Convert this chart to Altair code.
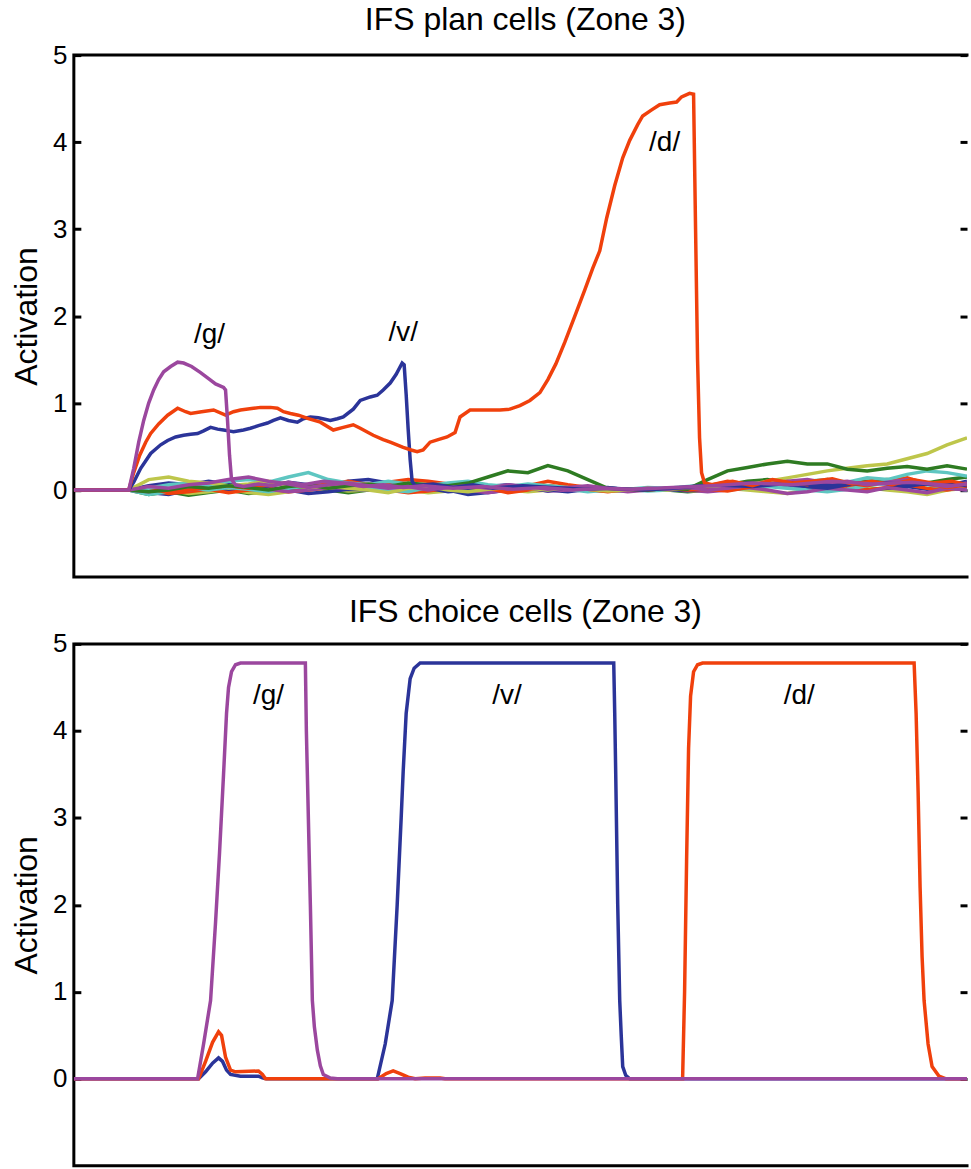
import altair as alt
import pandas as pd

FONT = "Liberation Sans"
W, H = 895, 523
X_MAX = 895
TICKS = [0, 1, 2, 3, 4, 5]

BLUE, RED, GREEN, OLIVE, CYAN, PURPLE = "#2B3499", "#F0400C", "#2E7B22", "#BEC64B", "#5EC6C1", "#9B479E"

# ---------------- top panel: plan cells ----------------
NOISE_T = [55, 75, 95, 115, 135, 155, 175, 195, 215, 235, 255, 275, 295, 315, 335, 355, 375,
           395, 415, 435, 455, 475, 495, 515, 535, 555, 575, 595, 615, 635, 655, 675, 695,
           715, 735, 755, 775, 795, 815, 835, 855, 875, 895]

N_BLUE = [0.0, 0.05, 0.08, 0.06, 0.10, 0.07, 0.03, 0.05, 0.09, 0.06,
          0.04, 0.10, 0.12, 0.08, 0.05, 0.02, -0.02, 0.00, 0.04, 0.06,
          0.03, -0.01, 0.02, 0.01, 0.03, 0.00, 0.02, 0.01, -0.01, 0.02,
          0.03, 0.05, 0.06, 0.08, 0.04, 0.02, 0.06, 0.09, 0.07, 0.04,
          0.08, 0.05, 0.10]
N_RED = [0.0, 0.02, -0.03, 0.00, 0.03, 0.05, 0.02, 0.06, 0.08, 0.04,
         0.07, 0.10, 0.06, 0.09, 0.12, 0.10, 0.07, 0.04, 0.02, -0.03,
         0.00, 0.05, 0.03, 0.01, -0.02, 0.01, 0.00, 0.02, 0.00, 0.01,
         -0.01, 0.03, 0.09, 0.10, 0.06, 0.12, 0.08, 0.05, 0.10, 0.14,
         0.07, 0.03, 0.06]
N_GREEN = [0.0, -0.02, 0.00, 0.04, 0.02, 0.05, 0.03, 0.00, 0.04, 0.06,
           0.02, 0.05, 0.07, 0.04, 0.08, 0.06, 0.05, 0.08, 0.15, 0.22,
           0.20, 0.28, 0.22, 0.12, 0.02, 0.01, 0.00, 0.02, 0.01, 0.12,
           0.22, 0.26, 0.30, 0.33, 0.30, 0.30, 0.24, 0.22, 0.25, 0.27,
           0.24, 0.28, 0.24]
N_OLIVE = [0.0, 0.12, 0.15, 0.10, 0.08, 0.05, 0.07, 0.10, 0.06, 0.03,
           0.05, 0.02, 0.00, -0.03, 0.02, 0.04, 0.00, -0.02, 0.01, 0.03,
           0.02, 0.00, 0.03, 0.01, -0.01, 0.00, 0.02, 0.00, 0.03, 0.05,
           0.04, 0.06, 0.10, 0.14, 0.18, 0.22, 0.25, 0.28, 0.30, 0.36,
           0.42, 0.52, 0.60]
N_CYAN = [0.0, 0.02, 0.06, 0.08, 0.05, 0.10, 0.12, 0.09, 0.15, 0.20,
          0.12, 0.08, 0.06, 0.10, 0.07, 0.05, 0.08, 0.10, 0.06, 0.04,
          0.07, 0.05, 0.03, 0.02, 0.00, 0.01, 0.03, 0.02, 0.04, 0.06,
          0.03, 0.05, 0.08, 0.06, 0.10, 0.12, 0.09, 0.14, 0.12, 0.18,
          0.22, 0.20, 0.16]
N_PURPLE = [0.0, 0.04, 0.02, 0.06, 0.08, 0.12, 0.15, 0.10, 0.07, 0.03,
            0.06, 0.08, 0.05, 0.02, 0.04, 0.00, 0.03, 0.05, 0.02, 0.06,
            0.04, 0.01, 0.03, 0.05, 0.02, 0.00, 0.02, 0.01, 0.03, 0.00,
            0.02, 0.05, 0.07, 0.10, 0.12, 0.08, 0.10, 0.06, 0.09, 0.12,
            0.07, 0.04, 0.08]
N_BLUE2 = [0.0, -0.03, -0.05, 0.00, 0.02, -0.02, 0.01, 0.03, 0.00, -0.04,
           -0.02, 0.01, 0.00, 0.03, 0.05, 0.02, 0.00, -0.05, -0.03, 0.00,
           0.02, 0.00, -0.02, 0.01, 0.00, -0.01, 0.01, 0.00, 0.02, 0.00,
           0.05, 0.08, 0.06, 0.04, 0.02, 0.05, 0.03, 0.00, 0.02, 0.04,
           0.01, 0.03, 0.00]
N_RED2 = [0.0, 0.00, -0.04, -0.02, 0.01, -0.03, 0.00, 0.02, -0.02, 0.00,
          0.03, 0.05, 0.02, 0.00, -0.03, -0.01, 0.02, 0.04, 0.00, 0.02,
          0.05, 0.10, 0.06, 0.03, 0.00, 0.01, 0.00, 0.00, 0.02, 0.05,
          0.10, 0.07, 0.04, 0.08, 0.05, 0.02, 0.04, 0.00, 0.03, 0.06,
          0.02, 0.00, 0.04]
N_GREEN2 = [0.0, -0.05, -0.02, -0.06, -0.03, 0.00, -0.04, -0.02, 0.01, 0.04,
            0.00, -0.03, 0.00, 0.02, 0.05, 0.03, 0.00, -0.02, 0.01, 0.00,
            0.03, 0.05, 0.02, 0.00, -0.01, 0.00, 0.01, 0.00, -0.02, 0.00,
            0.06, 0.10, 0.12, 0.08, 0.10, 0.06, 0.08, 0.10, 0.12, 0.10,
            0.08, 0.12, 0.15]
N_CYAN2 = [0.0, -0.05, -0.02, 0.02, 0.00, 0.03, 0.01, -0.02, 0.02, 0.05,
           0.08, 0.04, 0.02, 0.00, -0.02, 0.03, 0.06, 0.08, 0.05, 0.02,
           0.00, 0.03, 0.01, -0.02, 0.00, 0.01, -0.01, 0.00, 0.02, 0.01,
           0.00, 0.02, 0.04, 0.02, 0.00, -0.02, 0.01, 0.05, 0.08, 0.10,
           0.06, 0.03, 0.00]
N_OLIVE2 = [0.0, 0.03, 0.00, -0.04, -0.02, 0.01, -0.03, -0.05, -0.02, 0.00,
            0.02, -0.01, 0.00, 0.03, 0.00, -0.03, -0.01, 0.00, 0.02, 0.00,
            -0.02, 0.00, 0.01, 0.00, -0.01, 0.00, 0.00, 0.01, -0.01, 0.00,
            0.02, 0.00, -0.02, -0.04, 0.00, 0.02, 0.05, 0.03, 0.00, -0.02,
            -0.05, 0.00, 0.02]
N_PURPLE2 = [0.0, -0.02, 0.02, 0.00, 0.03, 0.06, 0.04, 0.01, -0.02, 0.00,
             0.03, 0.02, 0.06, 0.09, 0.05, 0.02, 0.04, 0.00, -0.03, 0.00,
             0.02, -0.01, 0.00, 0.02, 0.01, -0.02, 0.00, 0.02, 0.00, -0.02,
             0.00, 0.03, 0.00, -0.04, -0.02, 0.02, 0.00, -0.02, 0.03, 0.00,
             -0.03, 0.02, 0.00]

NOISE = [("n_green2", GREEN, N_GREEN2), ("n_olive2", OLIVE, N_OLIVE2), ("n_blue2", BLUE, N_BLUE2),
         ("n_red2", RED, N_RED2), ("n_cyan2", CYAN, N_CYAN2), ("n_purple2", PURPLE, N_PURPLE2),
         ("n_blue", BLUE, N_BLUE), ("n_red", RED, N_RED), ("n_cyan", CYAN, N_CYAN),
         ("n_olive", OLIVE, N_OLIVE), ("n_green", GREEN, N_GREEN), ("n_purple", PURPLE, N_PURPLE)]

PLAN_G = [(0, 0), (55, 0), (60, 0.25), (65, 0.55), (70, 0.8), (75, 1.0), (80, 1.15), (85, 1.27),
          (90, 1.36), (97, 1.42), (104, 1.47), (110, 1.46), (118, 1.42), (127, 1.35), (135, 1.28),
          (142, 1.22), (150, 1.18), (152, 1.15), (154, 0.8), (156, 0.4), (158, 0.12), (162, 0.06),
          (170, 0.04), (185, 0.07), (200, 0.05), (215, 0.09), (230, 0.06), (250, 0.1), (270, 0.08),
          (290, 0.04), (310, 0.06), (330, 0.03), (350, 0.05), (380, 0.02), (410, 0.04), (440, 0.01),
          (470, 0.03), (500, 0.0), (530, 0.02), (560, 0.01), (600, 0.03), (640, 0.05), (680, 0.08),
          (720, 0.06), (760, 0.1), (800, 0.07), (840, 0.09), (880, 0.05), (895, 0.07)]

PLAN_V = [(0, 0), (55, 0), (60, 0.09), (67, 0.25), (77, 0.42), (87, 0.52), (94, 0.57), (102, 0.61),
          (110, 0.63), (117, 0.64), (124, 0.65), (130, 0.68), (137, 0.72), (144, 0.7), (150, 0.69),
          (155, 0.68), (160, 0.67), (170, 0.69), (177, 0.71), (185, 0.74), (194, 0.77), (200, 0.8),
          (207, 0.83), (215, 0.8), (224, 0.78), (230, 0.82), (237, 0.84), (245, 0.83), (257, 0.8),
          (264, 0.82), (270, 0.84), (280, 0.93), (287, 1.03), (297, 1.07), (304, 1.09), (310, 1.15),
          (317, 1.23), (323, 1.33), (329, 1.46), (331, 1.44), (333, 1.1), (335, 0.7), (337, 0.35),
          (339, 0.1), (342, 0.05), (360, 0.07), (380, 0.03), (400, 0.06), (420, 0.02), (450, 0.05),
          (480, 0.03), (510, 0.01), (540, 0.02), (570, 0.0), (600, 0.02), (640, 0.06), (680, 0.04),
          (720, 0.08), (760, 0.05), (800, 0.09), (840, 0.06), (880, 0.08), (895, 0.05)]

PLAN_D = [(0, 0), (55, 0), (60, 0.2), (66, 0.4), (72, 0.55), (77, 0.65), (85, 0.76), (94, 0.86),
          (104, 0.94), (112, 0.9), (117, 0.88), (128, 0.9), (140, 0.92), (152, 0.86), (160, 0.9),
          (167, 0.92), (180, 0.94), (187, 0.95), (197, 0.95), (204, 0.94), (210, 0.9), (217, 0.88),
          (225, 0.86), (235, 0.82), (247, 0.78), (260, 0.69), (270, 0.72), (280, 0.75), (287, 0.71),
          (300, 0.63), (310, 0.58), (317, 0.55), (330, 0.49), (338, 0.46), (344, 0.44), (350, 0.46),
          (357, 0.55), (365, 0.58), (374, 0.61), (382, 0.66), (387, 0.84), (397, 0.92), (410, 0.92),
          (427, 0.92), (437, 0.93), (447, 0.97), (457, 1.03), (467, 1.12), (475, 1.27), (483, 1.45),
          (492, 1.7), (502, 2.0), (512, 2.3), (520, 2.55), (527, 2.75), (534, 3.13), (542, 3.5),
          (550, 3.82), (557, 4.02), (565, 4.2), (570, 4.3), (579, 4.37), (587, 4.43), (597, 4.45),
          (604, 4.46), (609, 4.52), (617, 4.56), (621, 4.55), (623, 3.0), (625, 1.5), (627, 0.6),
          (629, 0.2), (632, 0.08), (640, 0.06), (660, 0.1), (680, 0.05), (700, 0.12), (720, 0.08),
          (740, 0.1), (760, 0.13), (780, 0.07), (800, 0.1), (820, 0.06), (840, 0.12), (860, 0.08),
          (880, 0.1), (895, 0.06)]

TOP_LABELS = ["/g/", "/v/", "/d/"]
TOP_LABEL_T = [136, 330, 592]
TOP_LABEL_Y = [1.78, 1.8, 3.99]

# ---------------- bottom panel: choice cells ----------------
CHOICE_G = [(0, 0), (124, 0), (130, 0.4), (137, 0.9), (142, 1.8), (146, 2.6), (150, 3.5), (153, 4.2),
            (155, 4.5), (158, 4.68), (162, 4.76), (167, 4.78), (232, 4.78), (233, 4.0), (234, 3.5),
            (237, 2.0), (239, 0.9), (241, 0.6), (244, 0.33), (247, 0.15), (250, 0.05), (257, 0.01),
            (264, 0), (895, 0)]
CHOICE_V = [(0, 0), (125, 0), (132, 0.08), (139, 0.18), (145, 0.24), (149, 0.2), (153, 0.1),
            (157, 0.05), (167, 0.03), (185, 0.03), (189, 0.01), (193, 0), (304, 0), (312, 0.4),
            (319, 0.9), (324, 2.0), (328, 3.0), (330, 3.53), (333, 4.2), (337, 4.6), (341, 4.72),
            (347, 4.78), (541, 4.78), (542, 4.2), (543, 3.5), (545, 2.0), (547, 0.9), (548.5, 0.5),
            (550, 0.14), (553, 0.04), (557, 0), (895, 0)]
CHOICE_D = [(0, 0), (125, 0), (132, 0.2), (139, 0.42), (145, 0.54), (148, 0.5), (152, 0.25),
            (157, 0.1), (162, 0.08), (185, 0.09), (189, 0.05), (192, 0), (305, 0), (313, 0.06),
            (320, 0.09), (327, 0.06), (335, 0.02), (342, 0.0), (352, 0.01), (367, 0.01), (372, 0),
            (610, 0), (612, 1.0), (614, 2.5), (616, 3.8), (618, 4.4), (621, 4.68), (625, 4.76),
            (630, 4.78), (842, 4.78), (844, 4.2), (846, 3.3), (848, 2.2), (850, 1.4), (852, 0.9),
            (856, 0.4), (860, 0.14), (867, 0.03), (874, 0), (895, 0)]

BOT_LABELS = ["/g/", "/v/", "/d/"]
BOT_LABEL_T = [195, 434, 727]
BOT_LABEL_Y = [4.4, 4.4, 4.4]


def pts_df(pts):
    return pd.DataFrame({"t": [p[0] for p in pts], "y": [p[1] for p in pts]})


noise_rows = []
for name, _c, vals in NOISE:
    noise_rows.append({"series": name, "t": 0, "y": 0.0})
    for t, v in zip(NOISE_T, vals):
        noise_rows.append({"series": name, "t": t, "y": v})
noise_df = pd.DataFrame(noise_rows)

x_enc = alt.X("t:Q", scale=alt.Scale(domain=[0, X_MAX], nice=False, zero=False), axis=None)
y_scale = alt.Scale(domain=[-1, 5], nice=False, zero=False)

left_axis = alt.Axis(values=TICKS, orient="left", offset=-7, tickSize=7, tickWidth=3,
                     tickColor="black", domain=False, grid=False, labelFontSize=26,
                     labelFont=FONT, labelColor="black", labelPadding=7,
                     title="Activation", titleFontSize=32, titleFont=FONT,
                     titleFontWeight="normal", titleColor="black", titlePadding=9)
right_axis = alt.Axis(values=TICKS, orient="right", offset=-7, tickSize=7, tickWidth=3,
                      tickColor="black", domain=False, grid=False, labels=False)


def line_layer(pts, color, width=3.5):
    return alt.Chart(pts_df(pts)).mark_line(color=color, strokeWidth=width, clip=True).encode(
        x=x_enc, y=alt.Y("y:Q", scale=y_scale, axis=None))


def label_layer(labels, ts, ys):
    df = pd.DataFrame({"label": labels, "t": ts, "y": ys})
    return alt.Chart(df).mark_text(font=FONT, fontSize=28, color="black",
                                   align="center", baseline="middle").encode(
        x=x_enc, y=alt.Y("y:Q", scale=y_scale, axis=right_axis, title=None), text="label:N")


def panel_title(text, offset):
    return alt.TitleParams(text, fontSize=32, font=FONT, fontWeight="normal", color="black",
                           anchor="middle", dx=5, offset=offset)


noise_layer = alt.Chart(noise_df).mark_line(strokeWidth=3.5, clip=True).encode(
    x=x_enc,
    y=alt.Y("y:Q", scale=y_scale, axis=left_axis),
    color=alt.Color("series:N", scale=alt.Scale(domain=[n[0] for n in NOISE],
                                                range=[n[1] for n in NOISE]), legend=None),
)

top = alt.layer(
    noise_layer,
    line_layer(PLAN_V, BLUE),
    line_layer(PLAN_D, RED),
    line_layer(PLAN_G, PURPLE),
    label_layer(TOP_LABELS, TOP_LABEL_T, TOP_LABEL_Y),
).resolve_axis(y="independent").properties(width=W, height=H,
                                           title=panel_title("IFS plan cells (Zone 3)", 5))

base_choice = alt.Chart(pd.DataFrame({"t": [0, X_MAX], "y": [0.0, 0.0]})).mark_line(
    color=PURPLE, strokeWidth=3.5, opacity=0).encode(x=x_enc, y=alt.Y("y:Q", scale=y_scale, axis=left_axis))

bottom = alt.layer(
    base_choice,
    line_layer(CHOICE_V, BLUE),
    line_layer(CHOICE_D, RED),
    line_layer(CHOICE_G, PURPLE),
    label_layer(BOT_LABELS, BOT_LABEL_T, BOT_LABEL_Y),
).resolve_axis(y="independent").properties(width=W, height=H,
                                           title=panel_title("IFS choice cells (Zone 3)", 2))

chart = alt.vconcat(top, bottom, spacing=13).properties(
    padding={"left": 8, "top": 0, "right": 0, "bottom": 0},
    background="white",
).configure_view(
    stroke="black", strokeWidth=3, strokeDash=[W, H, W + H + 6, 6], strokeCap="square"
)

chart.save("out.html", embed_options={"renderer": "svg", "actions": False})
